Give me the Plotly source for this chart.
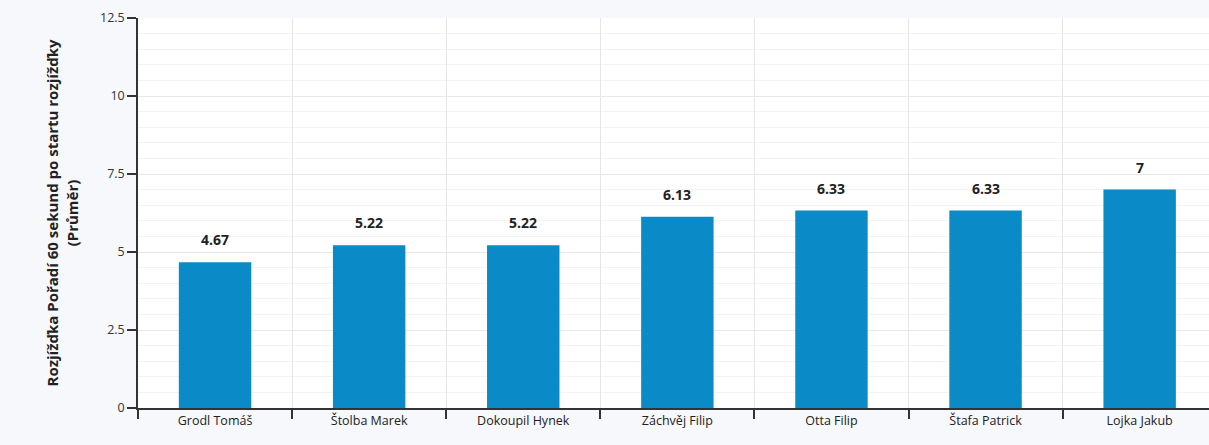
import plotly.graph_objects as go

names = ["Grodl Tomáš", "Štolba Marek", "Dokoupil Hynek", "Záchvěj Filip",
         "Otta Filip", "Štafa Patrick", "Lojka Jakub"]
values = [4.67, 5.22, 5.22, 6.13, 6.33, 6.33, 7]
labels = ["4.67", "5.22", "5.22", "6.13", "6.33", "6.33", "7"]
y_ticks = [0, 2.5, 5, 7.5, 10, 12.5]
y_tick_text = ["0", "2.5", "5", "7.5", "10", "12.5"]

fig = go.Figure(go.Bar(
    x=names, y=values,
    marker=dict(color="#0a8ac6", line=dict(width=0)),
    width=0.47, hoverinfo="x+y",
))

for n, v, t in zip(names, values, labels):
    fig.add_annotation(x=n, y=v, text=t, showarrow=False, yanchor="bottom",
                       yshift=11,
                       font=dict(family="Open Sans", size=14, color="#222",
                                 weight="bold"))

fig.update_layout(
    width=1209, height=445,
    margin=dict(l=138, r=0, t=18, b=37),
    paper_bgcolor="#f7f8fb", plot_bgcolor="#ffffff",
    font=dict(family="Open Sans", size=12, color="#333"),
    showlegend=False,
)
fig.update_xaxes(
    range=[-0.5, 6.45], tickson="boundaries", ticks="outside", ticklen=9,
    tickwidth=1.5, tickcolor="#333", showline=True, linecolor="#333",
    linewidth=1.5, showgrid=True, gridcolor="#e6e6e6",
    tickfont=dict(size=12.5, color="#222"),
)
fig.update_yaxes(
    range=[0, 12.5], tickvals=y_ticks, ticktext=y_tick_text,
    ticks="outside", ticklen=9, tickwidth=1.5, tickcolor="#333",
    showline=True, linecolor="#333", linewidth=1.5,
    showgrid=True, gridcolor="#e8e8e8", gridwidth=1, zeroline=False,
    minor=dict(dtick=0.5, showgrid=True, gridcolor="#f3f3f3", ticks=""),
    tickfont=dict(size=12.5, color="#333"),
    title=dict(text="Rozjížďka Pořadí 60 sekund po startu rozjížďky<br>(Průměr)",
               font=dict(size=15, color="#222", weight="bold"), standoff=18),
)
fig.write_html(
    "out.html",
    config={"displayModeBar": False},
    post_script="document.body.style.margin='0';document.body.style.background='#f7f8fb';",
)
